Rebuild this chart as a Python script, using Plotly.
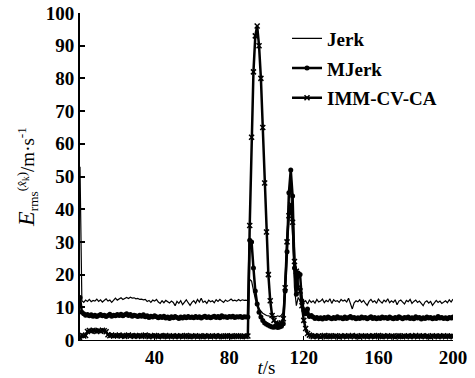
import plotly.graph_objects as go

t = list(range(0, 201))

jerk = (
    [53.0,
     12.0, 11.5, 12.2, 11.8, 12.4, 11.7, 12.1, 11.9, 12.5, 11.8,
     12.3, 11.6, 12.0, 12.6, 11.9, 12.2, 11.5, 12.3, 12.8, 12.2,
     12.5, 12.9, 12.4, 12.8, 13.0, 12.7, 13.1, 12.8, 12.9, 12.6,
     12.7, 12.4, 12.5, 12.3, 12.4, 11.8, 12.1, 11.5, 12.2, 11.9,
     12.4, 11.6, 11.2, 12.0, 11.4, 12.1, 11.7, 11.3, 11.9, 11.5,
     10.5, 11.8, 11.2, 12.0, 10.8, 11.6, 12.3, 11.4, 10.6, 11.5,
     12.0, 11.2, 12.4, 11.6, 12.8, 11.5, 11.9, 11.2, 12.2, 11.7,
     12.0, 11.4, 12.3, 11.8, 12.4, 11.9, 11.5, 12.2, 11.8, 12.1,
     12.5, 12.0, 12.2, 11.9, 12.4, 12.0, 12.3, 12.1, 12.2]
    + [12.0, 18.5, 18.0, 15.0, 12.5, 10.5, 9.5, 8.8, 8.2, 7.8,
       7.5, 7.4, 7.2, 7.0, 7.3, 7.1, 7.4, 7.2, 7.6, 8.5,
       18.0, 32.0, 44.0, 47.0, 34.0, 16.0, 10.5, 13.0, 12.0, 10.0,
       11.5, 12.0]
    + [11.0, 12.2, 11.5, 12.0, 11.3, 12.4, 11.6, 11.9, 12.5, 11.4,
       12.1, 11.7, 12.6, 11.2, 12.3, 11.8, 12.0, 11.5, 12.4, 11.9,
       12.2, 11.6, 12.8, 10.8, 9.5, 11.4, 12.0, 11.7, 12.3, 11.5,
       12.1, 11.3, 10.6, 11.8, 12.4, 11.6, 12.0, 11.2, 12.5, 11.8,
       11.3, 12.2, 11.7, 12.6, 11.4, 12.0, 11.5, 12.3, 10.8, 11.9,
       12.2, 11.6, 11.0, 12.1, 11.7, 12.4, 11.2, 11.8, 12.2, 11.5,
       11.9, 11.2, 10.5, 11.6, 12.0, 11.3, 11.8, 10.6, 11.4, 12.1,
       11.5, 11.9, 11.2, 11.7, 12.0, 11.4, 12.3, 11.6, 12.5]
)

mjerk = (
    [13.0,
     8.5, 8.0, 7.6, 7.8, 7.4, 7.7, 7.3, 7.6, 7.2, 7.5,
     7.8, 7.4, 7.6, 7.2, 7.5, 7.9, 7.3, 7.6, 7.4, 7.8,
     7.5, 7.9, 7.4, 7.7, 8.0, 7.5, 7.8, 7.3, 7.6, 7.4,
     7.2, 7.6, 7.3, 7.7, 7.1, 7.4, 6.9, 7.3, 7.0, 7.4,
     7.1, 6.8, 7.2, 6.9, 7.3, 6.7, 7.0, 6.6, 7.1, 6.8,
     7.2, 6.9, 6.6, 7.0, 6.7, 7.1, 6.8, 7.2, 6.9, 7.0,
     6.8, 7.2, 6.9, 7.1, 6.7, 7.0, 7.3, 6.9, 7.1, 6.8,
     7.0, 7.3, 6.9, 7.2, 6.8, 7.4, 7.0, 7.1, 6.9, 7.2,
     7.0, 7.3, 6.9, 7.1, 7.0, 7.2, 6.9, 7.1, 7.0]
    + [7.0, 30.5, 30.0, 22.0, 15.0, 11.0, 8.5, 7.0, 6.0, 5.2,
       4.8, 4.5, 4.2, 4.0, 3.9, 4.1, 3.8, 4.0, 4.2, 5.0,
       15.0, 27.0, 45.0, 52.0, 44.0, 22.0, 14.0, 20.5, 20.0, 12.0,
       9.0, 8.0, 9.5, 7.2, 7.5]
    + [7.0, 6.6, 6.9, 6.5, 6.8, 6.4, 6.9, 6.6, 7.0, 6.7,
       6.5, 6.9, 6.6, 7.1, 6.7, 6.8, 6.5, 7.0, 6.6, 6.9,
       7.2, 6.7, 6.9, 6.5, 6.8, 6.6, 7.0, 6.7, 6.9, 6.5,
       6.8, 7.1, 6.6, 6.9, 6.5, 6.8, 6.6, 7.0, 6.7, 6.9,
       6.6, 7.0, 6.7, 6.5, 6.9, 6.6, 7.1, 6.8, 6.5, 6.9,
       6.7, 7.0, 6.6, 6.8, 6.5, 7.1, 6.7, 6.9, 6.4, 6.8,
       6.6, 7.0, 6.7, 6.9, 6.5, 6.8, 6.6, 7.2, 6.7, 6.9,
       6.6, 6.8, 6.5, 6.9, 6.7, 7.0]
)

imm = (
    [0.5,
     1.5, 1.2, 1.4, 2.6, 2.9, 2.7, 3.0, 2.8, 2.6, 2.9,
     2.7, 3.0, 2.8, 2.5, 1.6, 1.3, 1.5, 1.2, 1.4, 1.3,
     1.5, 1.2, 1.4, 1.1, 1.3, 1.5, 1.2, 1.4, 1.1, 1.3,
     1.2, 1.4, 1.1, 1.3, 1.5, 1.2, 1.0, 1.3, 1.1, 1.4,
     1.2, 1.0, 1.3, 1.1, 1.2, 1.4, 1.0, 1.2, 1.1, 1.3,
     1.0, 1.2, 1.1, 1.3, 1.0, 1.2, 1.4, 1.1, 1.0, 1.2,
     1.1, 1.3, 1.0, 1.2, 1.1, 1.0, 1.3, 1.1, 1.2, 1.0,
     1.2, 1.1, 1.3, 1.0, 1.2, 1.1, 1.0, 1.2, 1.3, 1.1,
     1.2, 1.0, 1.1, 1.3, 1.2, 1.1, 1.0, 1.2, 1.1]
    + [1.2, 35.0, 62.0, 82.0, 93.0, 96.0, 90.0, 80.0, 65.0, 48.0,
       33.0, 20.0, 12.0, 7.5, 6.0, 5.2, 5.0, 4.8, 5.2, 6.5,
       16.0, 30.0, 38.0, 41.5, 36.0, 24.0, 21.0, 16.0, 15.0, 10.5,
       6.0, 3.5, 2.0, 1.5, 1.2]
    + [1.0, 1.3, 1.1, 1.2, 0.9, 1.2, 1.4, 1.0, 1.1, 1.3,
       1.2, 1.0, 1.3, 1.1, 0.9, 1.2, 1.1, 1.3, 1.0, 1.2,
       1.1, 1.4, 1.0, 1.2, 1.1, 0.9, 1.3, 1.1, 1.2, 1.0,
       1.2, 1.1, 1.3, 1.0, 1.2, 1.4, 1.1, 1.0, 1.2, 1.1,
       1.3, 1.0, 1.2, 1.1, 0.9, 1.2, 1.3, 1.1, 1.0, 1.2,
       1.1, 1.3, 1.0, 1.2, 1.1, 1.4, 1.0, 1.2, 1.1, 1.3,
       1.0, 1.2, 1.1, 0.9, 1.3, 1.1, 1.2, 1.0, 1.2, 1.1,
       1.3, 1.0, 1.2, 1.1, 1.2, 1.0]
)

x_ticks = [40, 80, 120, 160, 200]
y_ticks = [0, 10, 20, 30, 40, 50, 60, 70, 80, 90, 100]

FONT = "Liberation Serif"

fig = go.Figure()
fig.add_trace(go.Scatter(
    x=t, y=jerk, mode="lines", name="<b>Jerk</b>", legendgroup="a",
    line=dict(color="black", width=1.2)))
fig.add_trace(go.Scatter(
    x=t, y=mjerk, mode="lines+markers", name="<b>MJerk</b>", legendgroup="b",
    line=dict(color="black", width=2.5),
    marker=dict(symbol="circle", size=5, color="black")))
fig.add_trace(go.Scatter(
    x=t, y=imm, mode="lines+markers", name="<b>IMM-CV-CA</b>", legendgroup="c",
    line=dict(color="black", width=2.5),
    marker=dict(symbol="x-thin", size=5, color="black",
                line=dict(color="black", width=1.5))))

fig.update_layout(
    width=475, height=378,
    margin=dict(l=80, r=22, t=13, b=38, autoexpand=False),
    paper_bgcolor="white", plot_bgcolor="white",
    font=dict(family=FONT, size=18, color="black"),
    showlegend=True,
    legend=dict(x=0.555, y=0.98, xanchor="left", yanchor="top",
                bgcolor="rgba(0,0,0,0)", font=dict(family=FONT, size=19),
                tracegroupgap=2, traceorder="grouped"),
    xaxis=dict(range=[0, 200], tickvals=x_ticks, ticktext=["<b>%d</b>" % v for v in x_ticks],
               automargin=False,
               showgrid=False, zeroline=False, showline=True, linecolor="black",
               linewidth=1, ticks="inside", ticklen=4, tickcolor="black",
               tickfont=dict(family=FONT, size=19),
               title=dict(text="<i>t</i>/s", font=dict(family=FONT, size=19), standoff=2)),
    yaxis=dict(range=[0, 100], tickvals=y_ticks, ticktext=["<b>%d</b>" % v for v in y_ticks],
               automargin=False,
               showgrid=False, zeroline=False, showline=True, linecolor="black",
               linewidth=2, ticks="inside", ticklen=5, tickwidth=1.5, tickcolor="black",
               tickfont=dict(family=FONT, size=19),
               title=dict(text="<span style='font-size:24px'><i>E</i></span><sub>rms</sub><sup>(<i>x̂</i><sub>k</sub>)</sup>/m·s<sup>-1</sup>",
                          font=dict(family=FONT, size=19), standoff=6)),
)

fig.write_html("out.html", config={"displayModeBar": False},
               post_script="document.body.style.margin='0';")
